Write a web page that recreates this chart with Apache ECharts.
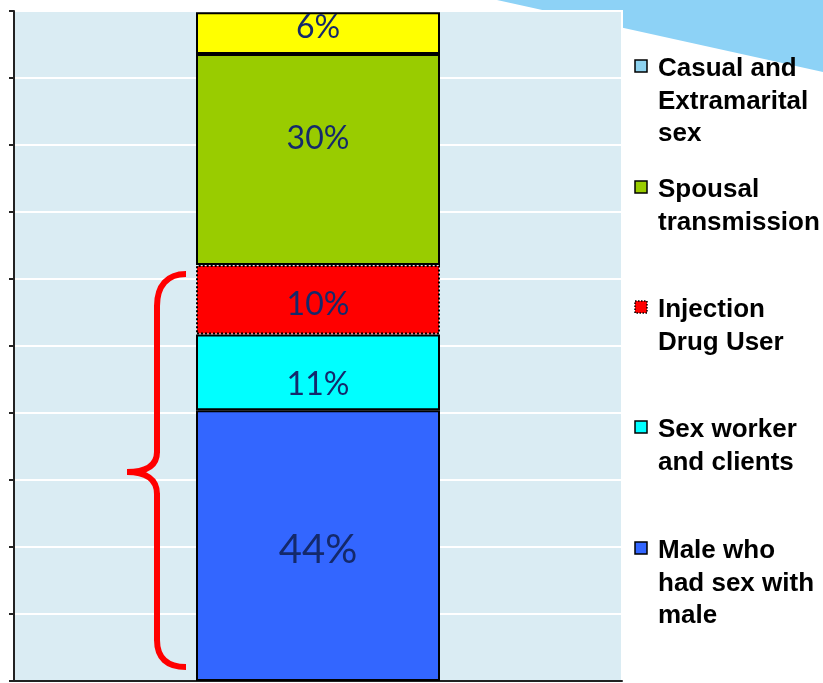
<!DOCTYPE html>
<html>
<head>
<meta charset="utf-8">
<script src="https://cdn.jsdelivr.net/npm/echarts@6/dist/echarts.min.js"></script>
<style>
  html, body { margin: 0; padding: 0; background: #fff; }
  #chart-container { width: 823px; height: 683px; }
</style>
</head>
<body>
<div id="chart-container"></div>
<script>
// data (bottom to top of the stack)
var categories = [''];
var seriesNames = ['Male who had sex with male', 'Sex worker and clients', 'Injection Drug User', 'Spousal transmission', 'Casual and Extramarital sex'];
var shares = [40.4, 11.3, 10.4, 31.5, 6.2];
var shareLabels = ['44%', '11%', '10%', '30%', '6%'];
var yTicks = [0, 10, 20, 30, 40, 50, 60, 70, 80, 90, 100];

// legend, top to bottom
var legendLines = [
  ['Casual and', 'Extramarital', 'sex'],
  ['Spousal', 'transmission'],
  ['Injection', 'Drug User'],
  ['Sex worker', 'and clients'],
  ['Male who', 'had sex with', 'male']
];
var legendColors = ['#8dd2ef', '#99cc00', '#ff0000', '#00ffff', '#3366ff'];
var legendTops = [60, 181, 301, 421, 542];

var dom = document.getElementById('chart-container');
var myChart = echarts.init(dom, null, { renderer: 'canvas' });

function barLabel(i, size, dy) {
  return {
    show: true,
    position: 'inside',
    offset: [0, dy],
    formatter: function () { return shareLabels[i]; },
    fontFamily: 'Lato',
    fontSize: size,
    color: '#14296b'
  };
}

var braceStyle = { fill: null, stroke: '#ff0000', lineWidth: 6 };

var graphics = [
  // light blue swoosh top right
  {
    type: 'polygon',
    z: -5,
    shape: { points: [[497, 0], [823, 0], [823, 72]] },
    style: { fill: '#8dd2f6' }
  },
  // red curly brace, built from curves and lines
  { type: 'bezierCurve', z: 50, shape: { x1: 186, y1: 274, cpx1: 167, cpy1: 274, cpx2: 157, cpy2: 286, x2: 157, y2: 306 }, style: braceStyle },
  { type: 'line', z: 50, shape: { x1: 157, y1: 305, x2: 157, y2: 453 }, style: braceStyle },
  { type: 'bezierCurve', z: 50, shape: { x1: 157, y1: 452, cpx1: 157, cpy1: 466, cpx2: 146, cpy2: 472, x2: 127, y2: 472 }, style: braceStyle },
  { type: 'bezierCurve', z: 50, shape: { x1: 127, y1: 472, cpx1: 146, cpy1: 472, cpx2: 157, cpy2: 479, x2: 157, y2: 494 }, style: braceStyle },
  { type: 'line', z: 50, shape: { x1: 157, y1: 493, x2: 157, y2: 641 }, style: braceStyle },
  { type: 'bezierCurve', z: 50, shape: { x1: 157, y1: 640, cpx1: 157, cpy1: 658, cpx2: 167, cpy2: 667, x2: 186, y2: 667 }, style: braceStyle }
];

legendLines.forEach(function (lines, k) {
  var top = legendTops[k];
  var marker = {
    type: 'rect',
    z: 50,
    shape: { x: 635, y: top, width: 12, height: 12 },
    style: { fill: legendColors[k], stroke: '#000', lineWidth: 1.5 }
  };
  if (k === 2) {
    marker.style.lineDash = [1.5, 1.5];
  }
  graphics.push(marker);
  graphics.push({
    type: 'text',
    z: 50,
    x: 658,
    y: top - 7,
    style: {
      text: lines.join('\n'),
      font: 'bold 26px "Liberation Sans", Arial, sans-serif',
      lineHeight: 32.5,
      fill: '#000',
      verticalAlign: 'top'
    }
  });
});

var option = {
  animation: false,
  backgroundColor: '#fff',
  grid: {
    left: 14,
    top: 11,
    width: 608,
    height: 670,
    show: true,
    backgroundColor: '#daecf3',
    borderColor: '#fff',
    borderWidth: 2
  },
  xAxis: {
    type: 'category',
    data: categories,
    axisLine: { show: true, lineStyle: { color: '#222', width: 2 } },
    axisTick: { show: false },
    axisLabel: { show: false }
  },
  yAxis: {
    type: 'value',
    min: yTicks[0],
    max: yTicks[yTicks.length - 1],
    interval: 10,
    axisLine: { show: true, lineStyle: { color: '#222', width: 2 } },
    axisTick: { show: true, inside: false, length: 5, lineStyle: { color: '#222', width: 2 } },
    axisLabel: { show: false },
    splitLine: { show: true, lineStyle: { color: '#fff', width: 2 } }
  },
  graphic: graphics,
  series: [
    {
      name: seriesNames[0],
      type: 'bar',
      stack: 'all',
      barWidth: 244,
      data: [shares[0]],
      itemStyle: { color: '#3366ff', borderColor: '#000', borderWidth: 2 },
      label: barLabel(0, 40, 4)
    },
    {
      name: seriesNames[1],
      type: 'bar',
      stack: 'all',
      barWidth: 244,
      data: [shares[1]],
      itemStyle: { color: '#00ffff', borderColor: '#000', borderWidth: 2 },
      label: barLabel(1, 32, 12)
    },
    {
      name: seriesNames[2],
      type: 'bar',
      stack: 'all',
      barWidth: 244,
      data: [shares[2]],
      itemStyle: { color: '#ff0000', borderColor: '#000', borderWidth: 2, borderType: [2, 2] },
      label: barLabel(2, 32, 5)
    },
    {
      name: seriesNames[3],
      type: 'bar',
      stack: 'all',
      barWidth: 244,
      data: [shares[3]],
      itemStyle: { color: '#99cc00', borderColor: '#000', borderWidth: 2 },
      label: barLabel(3, 32, -21)
    },
    {
      name: seriesNames[4],
      type: 'bar',
      stack: 'all',
      barWidth: 244,
      data: [shares[4]],
      itemStyle: { color: '#ffff00', borderColor: '#000', borderWidth: 2 },
      label: barLabel(4, 32, -5)
    }
  ]
};

if (option && typeof option === 'object') {
  myChart.setOption(option);
}

window.addEventListener('resize', myChart.resize);
</script>
</body>
</html>
